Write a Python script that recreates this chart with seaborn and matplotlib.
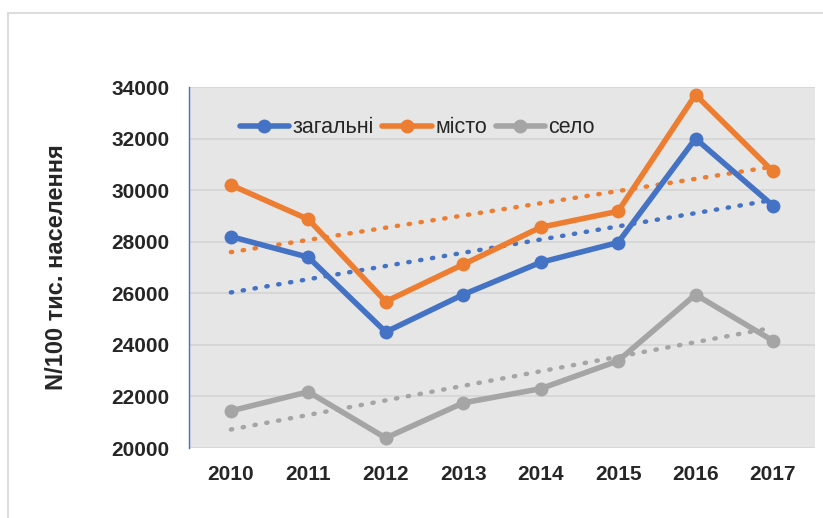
import numpy as np
import pandas as pd
import matplotlib.pyplot as plt
import matplotlib.patches as patches
import seaborn as sns

# --- Data ---
years = [2010, 2011, 2012, 2013, 2014, 2015, 2016, 2017]
zagalni = [28200, 27400, 24500, 25950, 27200, 27970, 32000, 29400]
misto = [30200, 28870, 25680, 27120, 28560, 29180, 33700, 30730]
selo = [21440, 22180, 20390, 21750, 22300, 23380, 25950, 24160]
series_names = ['загальні', 'місто', 'село']
series_colors = ['#4472C4', '#ED7D31', '#A5A5A5']
y_ticks = [20000, 22000, 24000, 26000, 28000, 30000, 32000, 34000]

df = pd.DataFrame({
    'year': years * 3,
    'value': zagalni + misto + selo,
    'series': [n for n in series_names for _ in years],
})

sns.set_theme(style='white')
plt.rcParams['font.family'] = ['Liberation Sans', 'DejaVu Sans']

fig = plt.figure(figsize=(8.23, 5.18), dpi=100)
ax = fig.add_axes([0.2297, 0.1351, 0.7603, 0.6969])
ax.set_facecolor('#E6E6E6')

# outer chart frame
fig.patches.append(patches.Rectangle((8 / 823, -0.1), 1.2, 1 - 13.5 / 518 + 0.1,
                                     transform=fig.transFigure, fill=False,
                                     edgecolor='#D6D6D6', linewidth=1.2, zorder=0))

# dotted linear trendlines
for name, color in zip(series_names, series_colors):
    sub = df[df['series'] == name]
    sns.regplot(data=sub, x='year', y='value', ax=ax, scatter=False, ci=None,
                color=color, truncate=True,
                line_kws={'linestyle': (0, (0.3, 2.4)), 'linewidth': 3.2,
                          'dash_capstyle': 'round', 'zorder': 2})

sns.lineplot(data=df, x='year', y='value', hue='series', hue_order=series_names,
             palette=series_colors, marker='o', markersize=10, markeredgewidth=0,
             linewidth=4, ax=ax, zorder=3)

ax.set_xlim(2009.46, 2017.54)
ax.set_ylim(20000, 34000)
ax.set_yticks(y_ticks)
ax.set_xticks(years)
ax.set_yticklabels([str(t) for t in y_ticks], fontsize=15, fontweight='bold')
ax.set_xticklabels([str(y) for y in years], fontsize=15, fontweight='bold')
ax.tick_params(axis='y', pad=14, length=0)
ax.tick_params(axis='x', pad=12, length=0)
ax.grid(axis='y', color='#D4D4D4', linewidth=1.2)
ax.set_axisbelow(True)
for side in ['top', 'right', 'bottom']:
    ax.spines[side].set_visible(False)
ax.spines['left'].set_color('#4472C4')
ax.spines['left'].set_linewidth(1)

ax.set_xlabel('')
ax.set_ylabel('N/100 тис. населення', fontsize=17, fontweight='bold', labelpad=31)

leg = ax.legend(loc='upper left', bbox_to_anchor=(0.05, 0.97), ncol=3, frameon=False,
                fontsize=15.5, handlelength=2.3, columnspacing=0.4, handletextpad=0.15)

fig.savefig('out.png', dpi=100)
